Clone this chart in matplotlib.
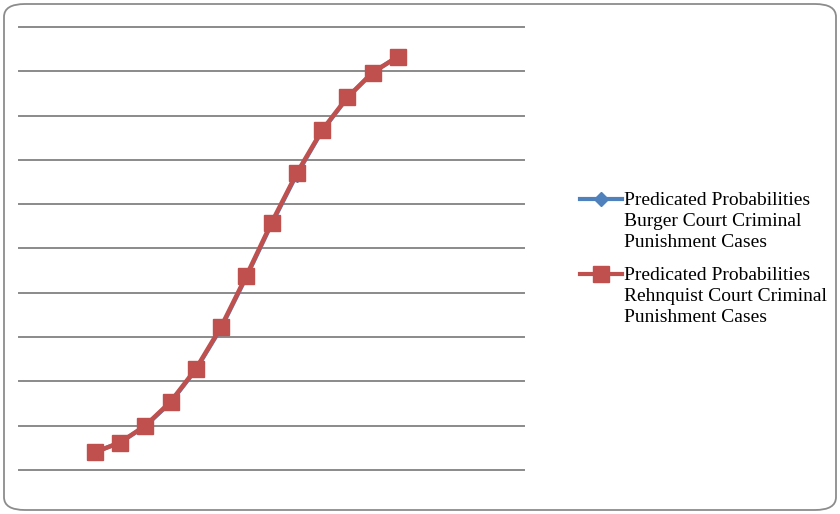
import matplotlib
matplotlib.use("Agg")
import matplotlib.pyplot as plt
from matplotlib.patches import FancyBboxPatch
from matplotlib.lines import Line2D

# Predicted probabilities by position along the scale
x_positions = [3, 4, 5, 6, 7, 8, 9, 10, 11, 12, 13, 14, 15]
burger = [0.040, 0.062, 0.099, 0.152, 0.226, 0.320, 0.435, 0.555, 0.667, 0.765, 0.840, 0.897, 0.933]
rehnquist = [0.040, 0.062, 0.100, 0.154, 0.228, 0.323, 0.438, 0.558, 0.670, 0.767, 0.841, 0.897, 0.933]
y_ticks = [0.0, 0.1, 0.2, 0.3, 0.4, 0.5, 0.6, 0.7, 0.8, 0.9, 1.0]

labels = [
    "Predicated Probabilities\nBurger Court Criminal\nPunishment Cases",
    "Predicated Probabilities\nRehnquist Court Criminal\nPunishment Cases",
]

BLUE = "#4F81BD"
RED = "#C0504D"
W, H = 840, 514
fig = plt.figure(figsize=(W / 100, H / 100), dpi=100)

# rounded chart border
border = FancyBboxPatch((4 / W, 4 / H), 832 / W, 506 / H,
                        boxstyle="round,pad=0,rounding_size=0.025",
                        transform=fig.transFigure, facecolor="white",
                        edgecolor="#8c8c8c", linewidth=1.3, zorder=0)
fig.patches.append(border)

ax = fig.add_axes([19 / W, 1 - 470 / H, (524 - 19) / W, (470 - 27) / H])
ax.set_zorder(2)
ax.set_facecolor("none")
ax.set_xlim(0, 20)
ax.set_ylim(0, 1.0)
ax.set_yticks(y_ticks)
ax.set_xticks([])
ax.tick_params(left=False, labelleft=False)
for s in ax.spines.values():
    s.set_visible(False)
ax.grid(axis="y", color="#8a8a8a", linewidth=1.4)
for gl in ax.get_ygridlines():
    gl.set_clip_on(False)
ax.set_axisbelow(True)

ax.plot(x_positions, burger, color=BLUE, linewidth=3,
        marker="D", markersize=7, markeredgecolor=BLUE, clip_on=False)
ax.plot(x_positions, rehnquist, color=RED, linewidth=3.2,
        marker="s", markersize=11, markeredgecolor=RED, clip_on=False)

# legend: key sits beside the first line of each multi-line label
legend_rows = [(199, BLUE, "D", 7), (274, RED, "s", 11)]
for (yc, col, mk, ms), text in zip(legend_rows, labels):
    yf = 1 - yc / H
    fig.add_artist(Line2D([580 / W, 622 / W], [yf, yf], transform=fig.transFigure,
                          color=col, linewidth=3, zorder=3))
    fig.add_artist(Line2D([601 / W], [yf], transform=fig.transFigure,
                          color=col, marker=mk, markersize=ms,
                          markeredgecolor=col, zorder=3))
    fig.text(624 / W, 1 - (yc - 7) / H, text, ha="left", va="top",
             family="Liberation Serif", fontsize=14, linespacing=1.31,
             color="black", zorder=3)

fig.savefig("out.png", dpi=100)
